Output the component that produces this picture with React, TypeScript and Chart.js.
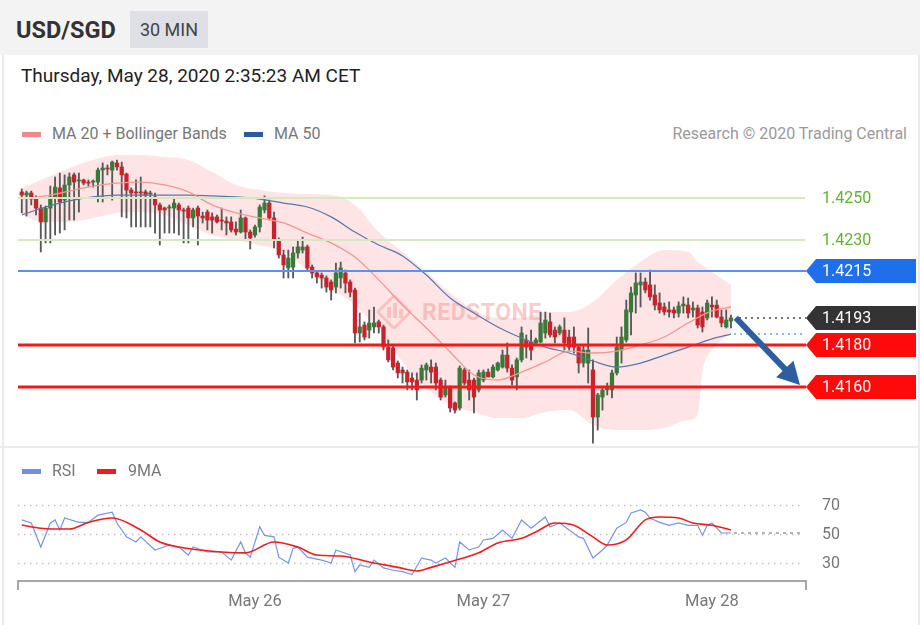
import React, { useEffect, useRef } from "react";
import { Chart, registerables } from "chart.js";

Chart.register(...registerables);

const FONT = "Roboto, 'Liberation Sans', Arial, sans-serif";
Chart.defaults.font.family = FONT;

// ---- 30-min candles, USD/SGD ----
const opens = [
  1.42529, 1.42514, 1.42524, 1.42495, 1.42452, 1.42386, 1.42452, 1.42505, 1.42548, 1.4249,
  1.42562, 1.4261, 1.42581, 1.42586, 1.42576, 1.42576, 1.42576, 1.42633, 1.42643, 1.42633,
  1.42667, 1.42648, 1.42614, 1.42538, 1.42529, 1.42529, 1.42529, 1.42519, 1.42505, 1.42467,
  1.42452, 1.42452, 1.42452, 1.42467, 1.42443, 1.42452, 1.42405, 1.42452, 1.42414, 1.42433,
  1.4241, 1.4241, 1.42395, 1.4239, 1.42386, 1.42352, 1.42338, 1.42405, 1.42338, 1.42324,
  1.42362, 1.42443, 1.42476, 1.42405, 1.423, 1.42229, 1.42167, 1.42171, 1.42238, 1.42252,
  1.42267, 1.42171, 1.42143, 1.42133, 1.42119, 1.421, 1.42076, 1.42119, 1.42143, 1.421,
  1.42062, 1.41857, 1.41895, 1.41871, 1.41886, 1.4191, 1.41886, 1.4179, 1.41786, 1.41714,
  1.41681, 1.41671, 1.41643, 1.41633, 1.41633, 1.41681, 1.41695, 1.41695, 1.41633, 1.41562,
  1.41595, 1.41524, 1.415, 1.41681, 1.41633, 1.41633, 1.41586, 1.41633, 1.41671, 1.41648,
  1.41681, 1.41695, 1.41752, 1.4169, 1.41648, 1.41729, 1.41824, 1.41814, 1.4181, 1.41814,
  1.41857, 1.4191, 1.41871, 1.41857, 1.41871, 1.41838, 1.41838, 1.4179, 1.41714, 1.41714,
  1.41681, 1.41457, 1.41552, 1.41586, 1.41586, 1.41667, 1.41776, 1.41824, 1.41957, 1.42038,
  1.42086, 1.421, 1.42086, 1.42038, 1.42, 1.41981, 1.41967, 1.41967, 1.41952, 1.41986,
  1.4199, 1.41967, 1.41976, 1.41957, 1.41929, 1.4199, 1.4199, 1.41933, 1.41886, 1.41914,
];
const highs = [
  1.42543, 1.42533, 1.42533, 1.4251, 1.42467, 1.42462, 1.42557, 1.426, 1.42619, 1.4261,
  1.42619, 1.42619, 1.42619, 1.4259, 1.42586, 1.42586, 1.42643, 1.42667, 1.42657, 1.42676,
  1.42681, 1.42671, 1.42619, 1.42548, 1.42586, 1.426, 1.42538, 1.42533, 1.42524, 1.42476,
  1.42457, 1.42467, 1.425, 1.42476, 1.42452, 1.42462, 1.42452, 1.42462, 1.42433, 1.42443,
  1.42429, 1.42419, 1.42452, 1.4241, 1.4241, 1.42386, 1.42443, 1.4241, 1.42348, 1.42371,
  1.42467, 1.4251, 1.4249, 1.42433, 1.4231, 1.42252, 1.42252, 1.42267, 1.423, 1.42314,
  1.42276, 1.42181, 1.42152, 1.42143, 1.42129, 1.4211, 1.4219, 1.42195, 1.42157, 1.4211,
  1.42071, 1.41952, 1.4191, 1.41967, 1.41981, 1.41919, 1.41895, 1.41824, 1.41795, 1.41724,
  1.41695, 1.41681, 1.41667, 1.41667, 1.41705, 1.41714, 1.41729, 1.41714, 1.41643, 1.41633,
  1.41605, 1.41529, 1.417, 1.4169, 1.41681, 1.41643, 1.41681, 1.41681, 1.41686, 1.41705,
  1.41719, 1.41776, 1.4181, 1.41705, 1.41738, 1.41886, 1.41848, 1.41871, 1.41833, 1.41957,
  1.41957, 1.41952, 1.41886, 1.41895, 1.41929, 1.41871, 1.41886, 1.418, 1.418, 1.41881,
  1.41729, 1.4157, 1.416, 1.41619, 1.41681, 1.41838, 1.41886, 1.42014, 1.42076, 1.42143,
  1.42143, 1.42119, 1.42157, 1.42086, 1.42048, 1.42, 1.42005, 1.41981, 1.42005, 1.42029,
  1.42024, 1.42005, 1.4199, 1.41981, 1.42014, 1.42029, 1.42014, 1.41967, 1.41967, 1.41943,
];
const lows = [
  1.42429, 1.42414, 1.42467, 1.42419, 1.42243, 1.42286, 1.42286, 1.42324, 1.42333, 1.42348,
  1.42395, 1.42395, 1.42433, 1.42562, 1.42557, 1.42552, 1.42481, 1.42481, 1.4261, 1.4249,
  1.42633, 1.4241, 1.42405, 1.42362, 1.42362, 1.42362, 1.42362, 1.42362, 1.42333, 1.42276,
  1.42333, 1.42333, 1.42333, 1.42324, 1.42286, 1.42286, 1.42362, 1.42276, 1.42381, 1.42348,
  1.42333, 1.42381, 1.42348, 1.42324, 1.42338, 1.42324, 1.42333, 1.423, 1.42257, 1.42314,
  1.42338, 1.42429, 1.42395, 1.42262, 1.42214, 1.42119, 1.42119, 1.42119, 1.42214, 1.42238,
  1.42157, 1.42119, 1.42095, 1.42071, 1.42052, 1.42014, 1.42048, 1.42071, 1.42048, 1.42029,
  1.4181, 1.41814, 1.41824, 1.41833, 1.41857, 1.41857, 1.41776, 1.41719, 1.41681, 1.41643,
  1.41619, 1.41586, 1.41586, 1.41538, 1.41619, 1.41633, 1.41619, 1.41586, 1.41538, 1.41552,
  1.41481, 1.41476, 1.4149, 1.4161, 1.41538, 1.41476, 1.41576, 1.41624, 1.41648, 1.41643,
  1.41676, 1.4169, 1.41671, 1.4161, 1.41586, 1.41719, 1.41738, 1.41729, 1.418, 1.4181,
  1.41833, 1.41838, 1.4181, 1.41848, 1.41776, 1.41776, 1.41762, 1.41667, 1.41695, 1.41619,
  1.41333, 1.41395, 1.4149, 1.41562, 1.41548, 1.41657, 1.41714, 1.41814, 1.41848, 1.41952,
  1.41981, 1.42048, 1.42014, 1.41967, 1.41952, 1.41943, 1.41933, 1.41929, 1.41933, 1.41952,
  1.41929, 1.41933, 1.41881, 1.41862, 1.41919, 1.41933, 1.41929, 1.41886, 1.41881, 1.41881,
];
const closes = [
  1.42514, 1.42524, 1.42495, 1.42452, 1.42386, 1.42452, 1.42505, 1.42552, 1.42481, 1.42562,
  1.426, 1.42576, 1.42586, 1.42571, 1.42571, 1.42581, 1.42633, 1.42643, 1.42638, 1.42671,
  1.42648, 1.4261, 1.42538, 1.42524, 1.42524, 1.42524, 1.42514, 1.42524, 1.42467, 1.42443,
  1.42443, 1.42457, 1.42476, 1.42443, 1.42438, 1.42405, 1.42443, 1.42414, 1.42405, 1.42395,
  1.42395, 1.42386, 1.4239, 1.42381, 1.42348, 1.42338, 1.42405, 1.42338, 1.4231, 1.42362,
  1.42457, 1.42476, 1.42405, 1.423, 1.42229, 1.42181, 1.42214, 1.42238, 1.42267, 1.42267,
  1.42167, 1.42143, 1.42124, 1.42119, 1.42076, 1.42062, 1.42143, 1.42167, 1.42095, 1.42052,
  1.41857, 1.41886, 1.41838, 1.41905, 1.41905, 1.41886, 1.4179, 1.41729, 1.41695, 1.41667,
  1.41667, 1.41624, 1.41624, 1.41586, 1.4169, 1.41705, 1.41671, 1.41619, 1.41552, 1.41595,
  1.415, 1.4149, 1.4169, 1.41619, 1.41586, 1.41552, 1.41667, 1.41671, 1.41648, 1.41695,
  1.41714, 1.41752, 1.4169, 1.41633, 1.41729, 1.41857, 1.4179, 1.41776, 1.41824, 1.41905,
  1.41919, 1.41848, 1.41838, 1.41886, 1.4181, 1.4179, 1.4179, 1.41714, 1.41776, 1.41776,
  1.41457, 1.41562, 1.41586, 1.416, 1.41667, 1.4179, 1.41838, 1.41967, 1.42048, 1.42095,
  1.421, 1.42062, 1.42029, 1.4199, 1.41967, 1.41957, 1.41957, 1.41952, 1.41986, 1.41995,
  1.41952, 1.41976, 1.41895, 1.41886, 1.42, 1.41981, 1.41933, 1.41905, 1.41919, 1.41929,
];

// ---- overlays (read at sampled bars) ----
const maIdx = [0, 5, 10, 15, 20, 25, 30, 35, 40, 45, 50, 55, 60, 65, 70, 75, 80, 85, 90, 95, 100, 105, 110, 115, 120, 125, 130, 135, 140, 145, 149];
const ma20 = [
  1.42495, 1.4251, 1.42533, 1.42557, 1.42571, 1.42576, 1.42562, 1.42529, 1.42467, 1.42429,
  1.42405, 1.42381, 1.42333, 1.42286, 1.42219, 1.4211, 1.4199, 1.41881, 1.41767, 1.41657,
  1.41633, 1.41671, 1.41719, 1.41771, 1.41762, 1.41771, 1.418, 1.41838, 1.41905, 1.41962, 1.41981,
];
const ma50 = [
  1.42419, 1.42457, 1.42486, 1.42505, 1.42514, 1.42514, 1.42514, 1.42514, 1.4251, 1.42505,
  1.42495, 1.42476, 1.42457, 1.4241, 1.42338, 1.42276, 1.42224, 1.42133, 1.42024, 1.41952,
  1.41886, 1.41833, 1.4179, 1.41762, 1.41724, 1.41695, 1.41714, 1.41752, 1.4179, 1.41829, 1.41852,
];
const bandIdx = [0, 5, 10, 15, 20, 25, 30, 35, 40, 45, 50, 55, 60, 65, 70, 75, 80, 85, 90, 95, 100, 105, 110, 115, 120, 125, 130, 135, 140, 142, 143, 145, 149];
const bandUpper = [
  1.42548, 1.42595, 1.42643, 1.42681, 1.42705, 1.42705, 1.42695, 1.42681, 1.42624, 1.42562,
  1.42538, 1.42524, 1.42519, 1.42514, 1.42467, 1.42338, 1.42243, 1.42148, 1.42048, 1.41967,
  1.41929, 1.41929, 1.41957, 1.41957, 1.42005, 1.4211, 1.42195, 1.42252, 1.42243, 1.42195,
  1.42181, 1.42148, 1.42086,
];
const bandLower = [
  1.42419, 1.42386, 1.42386, 1.42405, 1.42429, 1.42433, 1.42419, 1.42371, 1.42324, 1.423,
  1.42276, 1.42243, 1.42157, 1.42071, 1.4199, 1.41871, 1.41719, 1.41595, 1.41514, 1.41481,
  1.41452, 1.41452, 1.41481, 1.4149, 1.41419, 1.41395, 1.41395, 1.41405, 1.41443, 1.41467,
  1.41671, 1.41776, 1.41857,
];

// ---- key levels ----
const levels = [1.425, 1.423, 1.4215, 1.4193, 1.418, 1.416];
const levelLabels = ["1.4250", "1.4230", "1.4215", "1.4193", "1.4180", "1.4160"];
const levelKinds = ["minor", "minor", "res", "last", "sup", "sup"];
const arrowFrom = [150, 1.4193];
const arrowTo = [163.5, 1.4161];

// ---- RSI panel ----
const rsiIdx = [0, 2, 4, 6, 7, 8, 9, 12, 14, 16, 19, 20, 22, 24, 25, 28, 31, 33, 35, 36, 39, 42, 44, 46, 47, 48, 50, 51, 53, 54, 56, 57, 58, 60, 63, 65, 66, 69, 70, 71, 73, 74, 76, 78, 80, 82, 84, 86, 87, 89, 91, 92, 94, 96, 97, 99, 101, 103, 105, 107, 110, 111, 113, 115, 117, 118, 120, 122, 123, 125, 127, 128, 130, 131, 132, 134, 136, 138, 140, 142, 143, 144, 145, 147, 149];
const rsiVal = [59.7, 57.6, 41, 57.6, 59.7, 52.8, 61, 58, 58, 63, 65, 57.6, 48, 44.5, 48, 39, 42.4, 41, 35.5, 41, 37.6, 37.6, 32, 44.5, 37, 34, 55, 49, 48, 34, 30, 40, 41, 34, 32, 30, 39, 35.5, 24, 28.6, 27, 32, 26.6, 25, 24, 22, 33.4, 32, 30, 33.4, 27, 44.5, 39, 41, 45.9, 47, 52.8, 47, 59.7, 54, 61.7, 54.8, 57.6, 52.8, 48, 47, 33.4, 39, 42.4, 54, 58, 64.5, 66.6, 65, 61, 58, 56, 57.6, 56, 56, 49, 56, 57.6, 50.7, 50.7];
const ma9Idx = [0, 4, 10, 14, 19, 25, 29, 35, 42, 47, 53, 58, 62, 67, 73, 79, 83, 86, 92, 96, 100, 105, 108, 112, 116, 120, 123, 127, 131, 134, 138, 141, 145, 149];
const ma9Val = [56.2, 54, 53.4, 58, 61, 52.8, 44.5, 40, 37.6, 37, 44.5, 41, 35.5, 34.8, 30.7, 27, 24.5, 27, 32.7, 37, 43.8, 47, 51.4, 57.6, 56, 48, 42.4, 45.9, 59.7, 61.7, 61, 57.6, 56, 52.8];
const rsiGrid = [70, 50, 30];

// ---- time axis ----
const dayIdx = [49, 97, 145];
const dayLabels = ["May 26", "May 27", "May 28"];

const X_MIN = -0.79;
const X_MAX = 164.76;
const MAIN_MIN = 1.41314286;
const MAIN_MAX = 1.42728571;
const RSI_MIN = 17.59;
const RSI_MAX = 83.79;

const UP = "#3a7a38";
const DOWN = "#c8232c";

function drawTag(ctx: CanvasRenderingContext2D, x0: number, y: number, fill: string, text: string) {
  const h = 12;
  ctx.setLineDash([]);
  ctx.fillStyle = fill;
  ctx.beginPath();
  ctx.moveTo(x0, y);
  ctx.lineTo(x0 + 10, y - h);
  ctx.lineTo(x0 + 110, y - h);
  ctx.lineTo(x0 + 110, y + h);
  ctx.lineTo(x0 + 10, y + h);
  ctx.closePath();
  ctx.fill();
  ctx.fillStyle = "#ffffff";
  ctx.font = `16px ${FONT}`;
  ctx.textAlign = "left";
  ctx.textBaseline = "middle";
  ctx.fillText(text, x0 + 16, y + 1);
}

const mainDecor = {
  id: "mainDecor",
  afterDatasetsDraw(chart: any) {
    const { ctx, chartArea, scales } = chart;
    const xs = scales.x;
    const ys = scales.y;
    const left = chartArea.left;
    const right = chartArea.right;
    const lastX = xs.getPixelForValue(closes.length - 1);
    ctx.save();
    // MA50 projection
    const maEndY = ys.getPixelForValue(ma50[ma50.length - 1]);
    ctx.setLineDash([2, 4]);
    ctx.strokeStyle = "#7d9ad8";
    ctx.lineWidth = 1.5;
    ctx.beginPath();
    ctx.moveTo(lastX + 3, maEndY);
    ctx.lineTo(right - 2, maEndY);
    ctx.stroke();

    levels.forEach((v, k) => {
      const kind = levelKinds[k];
      const py = Math.round(ys.getPixelForValue(v));
      ctx.setLineDash([]);
      if (kind === "minor") {
        ctx.strokeStyle = "#d4e9bf";
        ctx.lineWidth = 2;
        ctx.beginPath();
        ctx.moveTo(left, py);
        ctx.lineTo(right - 1, py);
        ctx.stroke();
        ctx.fillStyle = "#62b22e";
        ctx.font = `16px ${FONT}`;
        ctx.textAlign = "left";
        ctx.textBaseline = "middle";
        ctx.fillText(levelLabels[k], right + 16, py + 1);
      } else if (kind === "last") {
        ctx.setLineDash([2, 4]);
        ctx.strokeStyle = "#444";
        ctx.lineWidth = 1.5;
        ctx.beginPath();
        ctx.moveTo(lastX + 8, py);
        ctx.lineTo(right, py);
        ctx.stroke();
        drawTag(ctx, right, py, "#333333", levelLabels[k]);
      } else {
        const isRes = kind === "res";
        ctx.strokeStyle = isRes ? "#5e90f0" : "#ff1414";
        ctx.lineWidth = isRes ? 2 : 3;
        ctx.beginPath();
        ctx.moveTo(left, py);
        ctx.lineTo(right, py);
        ctx.stroke();
        drawTag(ctx, right, py, isRes ? "#1f6eea" : "#ff0a0a", levelLabels[k]);
      }
    });

    // forecast arrow
    const ax1 = xs.getPixelForValue(arrowFrom[0]);
    const ay1 = ys.getPixelForValue(arrowFrom[1]);
    const ax2 = xs.getPixelForValue(arrowTo[0]);
    const ay2 = ys.getPixelForValue(arrowTo[1]);
    const ang = Math.atan2(ay2 - ay1, ax2 - ax1);
    const headLen = 22;
    const headW = 12;
    const bx = ax2 - headLen * Math.cos(ang);
    const by = ay2 - headLen * Math.sin(ang);
    ctx.setLineDash([]);
    ctx.strokeStyle = "#2d5e9f";
    ctx.fillStyle = "#2d5e9f";
    ctx.lineWidth = 6;
    ctx.lineCap = "butt";
    ctx.beginPath();
    ctx.moveTo(ax1, ay1);
    ctx.lineTo(bx + 2 * Math.cos(ang), by + 2 * Math.sin(ang));
    ctx.stroke();
    ctx.beginPath();
    ctx.moveTo(ax2, ay2);
    ctx.lineTo(bx + headW * Math.sin(ang), by - headW * Math.cos(ang));
    ctx.lineTo(bx - headW * Math.sin(ang), by + headW * Math.cos(ang));
    ctx.closePath();
    ctx.fill();
    ctx.restore();
  },
};

const rsiDecor = {
  id: "rsiDecor",
  beforeDatasetsDraw(chart: any) {
    const { ctx, chartArea, scales } = chart;
    const ys = scales.y;
    ctx.save();
    ctx.setLineDash([1.5, 4.5]);
    ctx.strokeStyle = "#c2c2c2";
    ctx.lineWidth = 1.5;
    rsiGrid.forEach((v) => {
      const py = Math.round(ys.getPixelForValue(v)) + 0.5;
      ctx.beginPath();
      ctx.moveTo(chartArea.left, py);
      ctx.lineTo(chartArea.right - 2, py);
      ctx.stroke();
    });
    ctx.restore();
  },
  afterDatasetsDraw(chart: any) {
    const { ctx, chartArea, scales } = chart;
    const xs = scales.x;
    const ys = scales.y;
    const left = chartArea.left;
    const right = chartArea.right;
    ctx.save();
    // last value projection
    const lx = xs.getPixelForValue(rsiIdx[rsiIdx.length - 1]);
    const ly = ys.getPixelForValue(rsiVal[rsiVal.length - 1]);
    ctx.setLineDash([3, 4]);
    ctx.strokeStyle = "#9a9a9a";
    ctx.lineWidth = 1.5;
    ctx.beginPath();
    ctx.moveTo(lx + 3, ly);
    ctx.lineTo(right - 2, ly);
    ctx.stroke();
    // axis
    ctx.setLineDash([]);
    ctx.strokeStyle = "#a8a8a8";
    ctx.lineWidth = 2;
    const by = chartArea.bottom;
    ctx.beginPath();
    ctx.moveTo(left, by + 9);
    ctx.lineTo(left, by);
    ctx.lineTo(right, by);
    ctx.lineTo(right, by + 9);
    ctx.stroke();
    // y labels
    ctx.fillStyle = "#777";
    ctx.font = `16px ${FONT}`;
    ctx.textAlign = "left";
    ctx.textBaseline = "middle";
    rsiGrid.forEach((v) => {
      ctx.fillText(String(v), right + 16, ys.getPixelForValue(v) + 1);
    });
    // x labels
    ctx.font = `16.5px ${FONT}`;
    ctx.textAlign = "center";
    dayIdx.forEach((d, k) => {
      ctx.fillText(dayLabels[k], xs.getPixelForValue(d), by + 21);
    });
    ctx.restore();
  },
};

export default function App() {
  const mainRef = useRef<HTMLCanvasElement>(null);
  const rsiRef = useRef<HTMLCanvasElement>(null);

  useEffect(() => {
    const idx = opens.map((_, i) => i);
    const bodyColors = idx.map((i) => (closes[i] >= opens[i] ? UP : DOWN));
    const main = new Chart(mainRef.current as HTMLCanvasElement, {
      type: "bar",
      data: {
        datasets: [
          {
            type: "line",
            label: "MA 20",
            data: maIdx.map((x, k) => ({ x, y: ma20[k] })),
            borderColor: "#f39595",
            borderWidth: 1.3,
            pointRadius: 0,
            cubicInterpolationMode: "monotone",
            order: 0,
          } as any,
          {
            type: "line",
            label: "MA 50",
            data: maIdx.map((x, k) => ({ x, y: ma50[k] })),
            borderColor: "#5877ad",
            borderWidth: 1.2,
            pointRadius: 0,
            cubicInterpolationMode: "monotone",
            order: 0,
          } as any,
          {
            type: "bar",
            label: "body",
            data: idx.map((i) => ({ x: i, y: [opens[i], closes[i]] })),
            backgroundColor: bodyColors,
            borderWidth: 0,
            barThickness: 3.6,
            minBarLength: 1,
            grouped: false,
            order: 1,
          } as any,
          {
            type: "bar",
            label: "wick",
            data: idx.map((i) => ({ x: i, y: [lows[i], highs[i]] })),
            backgroundColor: "#595959",
            borderWidth: 0,
            barThickness: 1.2,
            grouped: false,
            order: 2,
          } as any,
          {
            type: "line",
            label: "upper",
            data: bandIdx.map((x, k) => ({ x, y: bandUpper[k] })),
            borderColor: "transparent",
            borderWidth: 0,
            pointRadius: 0,
            fill: false,
            cubicInterpolationMode: "monotone",
            order: 3,
          } as any,
          {
            type: "line",
            label: "lower",
            data: bandIdx.map((x, k) => ({ x, y: bandLower[k] })),
            borderColor: "transparent",
            borderWidth: 0,
            pointRadius: 0,
            fill: "-1",
            backgroundColor: "rgba(250, 150, 150, 0.26)",
            cubicInterpolationMode: "monotone",
            order: 3,
          } as any,
        ],
      },
      options: {
        responsive: false,
        animation: false,
        devicePixelRatio: 1,
        events: [],
        layout: { padding: { left: 18, right: 114, top: 0, bottom: 0 } },
        plugins: { legend: { display: false }, tooltip: { enabled: false } },
        scales: {
          x: { type: "linear", min: X_MIN, max: X_MAX, display: false, offset: false },
          y: { type: "linear", min: MAIN_MIN, max: MAIN_MAX, display: false },
        },
      } as any,
      plugins: [mainDecor],
    });

    const rsi = new Chart(rsiRef.current as HTMLCanvasElement, {
      type: "line",
      data: {
        datasets: [
          {
            label: "9MA",
            data: ma9Idx.map((x, k) => ({ x, y: ma9Val[k] })),
            borderColor: "#f21c1c",
            borderWidth: 1.6,
            pointRadius: 0,
            cubicInterpolationMode: "monotone",
          },
          {
            label: "RSI",
            data: rsiIdx.map((x, k) => ({ x, y: rsiVal[k] })),
            borderColor: "#7894e4",
            borderWidth: 1.2,
            pointRadius: 0,
            tension: 0,
          },
        ],
      },
      options: {
        responsive: false,
        animation: false,
        devicePixelRatio: 1,
        events: [],
        layout: { padding: { left: 18, right: 114, top: 38, bottom: 44 } },
        plugins: { legend: { display: false }, tooltip: { enabled: false } },
        scales: {
          x: { type: "linear", min: X_MIN, max: X_MAX, display: false },
          y: { type: "linear", min: RSI_MIN, max: RSI_MAX, display: false },
        },
      } as any,
      plugins: [rsiDecor],
    });

    return () => {
      main.destroy();
      rsi.destroy();
    };
  }, []);

  const abs: React.CSSProperties = { position: "absolute" };
  const legendText: React.CSSProperties = {
    ...abs,
    fontSize: 16,
    color: "#777",
    lineHeight: "20px",
    whiteSpace: "nowrap",
  };

  return (
    <div
      style={{
        position: "fixed",
        left: 0,
        top: 0,
        width: 920,
        height: 625,
        background: "#ffffff",
        fontFamily: FONT,
        overflow: "hidden",
      }}
    >
      {/* header */}
      <div style={{ ...abs, left: 0, top: 0, width: 920, height: 55, background: "#f3f3f3" }} />
      <div style={{ ...abs, left: 16, top: 13, lineHeight: "34px", fontSize: 23.5, fontWeight: 700, color: "#333" }}>
        USD/SGD
      </div>
      <div
        style={{
          ...abs,
          left: 130,
          top: 11,
          width: 78,
          height: 37,
          background: "#dfe0e5",
          color: "#444",
          fontSize: 18,
          lineHeight: "37px",
          textAlign: "center",
        }}
      >
        30 MIN
      </div>
      <div style={{ ...abs, left: 2, top: 55, width: 1.5, height: 570, background: "#ebebeb" }} />
      <div style={{ ...abs, left: 918, top: 55, width: 2, height: 570, background: "#ebebeb" }} />

      <div style={{ ...abs, left: 21, top: 65, lineHeight: "22px", fontSize: 19, color: "#222", whiteSpace: "nowrap" }}>
        Thursday, May 28, 2020 2:35:23 AM CET
      </div>

      {/* main legend */}
      <div style={{ ...abs, left: 22, top: 132, width: 19, height: 5, background: "#f08a8a" }} />
      <div style={{ ...legendText, left: 52, top: 124 }}>MA 20 + Bollinger Bands</div>
      <div style={{ ...abs, left: 244, top: 132, width: 19, height: 5, background: "#2c5aa0" }} />
      <div style={{ ...legendText, left: 274, top: 124 }}>MA 50</div>
      <div style={{ ...legendText, right: 13, top: 124, color: "#9a9a9a" }}>Research © 2020 Trading Central</div>

      {/* watermark */}
      <div style={{ ...abs, left: 381, top: 299, width: 26, height: 26, transform: "rotate(45deg)", border: "3px solid rgba(232,120,120,0.35)", borderRadius: 3, boxSizing: "border-box" }} />
      <div style={{ ...abs, left: 387, top: 307, width: 4, height: 11, background: "rgba(232,120,120,0.35)" }} />
      <div style={{ ...abs, left: 393, top: 303, width: 4, height: 15, background: "rgba(232,120,120,0.35)" }} />
      <div style={{ ...abs, left: 399, top: 309, width: 4, height: 9, background: "rgba(232,120,120,0.35)" }} />
      <div
        style={{
          ...abs,
          left: 422,
          top: 299,
          fontSize: 23,
          fontWeight: 700,
          lineHeight: "28px",
          color: "rgba(232,120,120,0.38)",
          letterSpacing: 0.5,
        }}
      >
        REDSTONE
      </div>

      <canvas ref={mainRef} width={920} height={297} style={{ ...abs, left: 0, top: 150, width: 920, height: 297 }} />

      {/* panel separator */}
      <div style={{ ...abs, left: 0, top: 446, width: 920, height: 2, background: "#ebebeb" }} />

      {/* RSI legend */}
      <div style={{ ...abs, left: 22, top: 469, width: 19, height: 5, background: "#6f8fe2" }} />
      <div style={{ ...legendText, left: 52, top: 461 }}>RSI</div>
      <div style={{ ...abs, left: 97, top: 469, width: 19, height: 5, background: "#ee1c1c" }} />
      <div style={{ ...legendText, left: 128, top: 461 }}>9MA</div>

      <canvas ref={rsiRef} width={920} height={178} style={{ ...abs, left: 0, top: 447, width: 920, height: 178 }} />
    </div>
  );
}
